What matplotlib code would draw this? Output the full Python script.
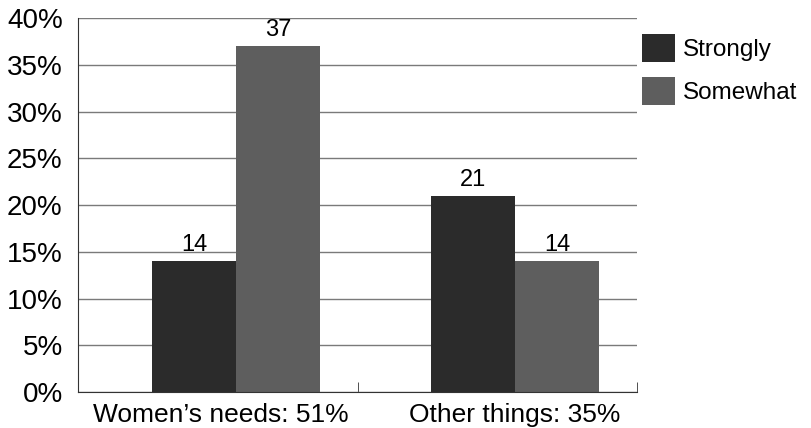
import matplotlib.pyplot as plt
import numpy as np

plt.rcParams['font.family'] = ['Liberation Sans', 'DejaVu Sans']

categories = ["Women\u2019s needs: 51%", "Other things: 35%"]
strongly = [14, 21]
somewhat = [37, 14]
series_names = ["Strongly", "Somewhat"]
colors = ["#2b2b2b", "#5e5e5e"]

fig = plt.figure(figsize=(8.11, 4.28), dpi=100)
ax = fig.add_axes([0.0962, 0.0841, 0.6893, 0.8738])

x = np.arange(len(categories))
w = 0.30
b1 = ax.bar(x - w / 2, strongly, w, color=colors[0], label=series_names[0], zorder=2)
b2 = ax.bar(x + w / 2, somewhat, w, color=colors[1], label=series_names[1], zorder=2)

for bars in (b1, b2):
    for r in bars:
        ax.text(r.get_x() + r.get_width() / 2, r.get_height() + 0.5, f"{int(r.get_height())}",
                ha='center', va='bottom', fontsize=17)

ax.set_xlim(-0.566, 1.437)
ax.set_ylim(0, 40)
ax.set_yticks(np.arange(0, 41, 5))
ax.set_yticklabels([f"{v}%" for v in range(0, 41, 5)], fontsize=20)
ax.yaxis.grid(True, color='#7a7a7a', linewidth=1, zorder=0)
ax.set_axisbelow(True)

# category labels sit a bit left of the first group's centre in the original
ax.set_xticks([-0.054, 1.0])
ax.set_xticklabels(categories, fontsize=19)
ax.tick_params(axis='x', length=0, pad=8)
ax.tick_params(axis='y', length=0, pad=11)
ax.set_xticks([0.437, 1.437], minor=True)
ax.tick_params(axis='x', which='minor', direction='in', length=7, color='#333333')

for s in ['top', 'right']:
    ax.spines[s].set_visible(False)
ax.spines['left'].set_color('#333333')
ax.spines['bottom'].set_color('#333333')

ax.legend(loc='upper left', bbox_to_anchor=(1.009, 0.958), frameon=False, fontsize=17.5,
          handlelength=1.36, handleheight=1.4, handletextpad=0.33, labelspacing=0.62,
          borderaxespad=0, borderpad=0)

fig.savefig("out.png", dpi=100)
